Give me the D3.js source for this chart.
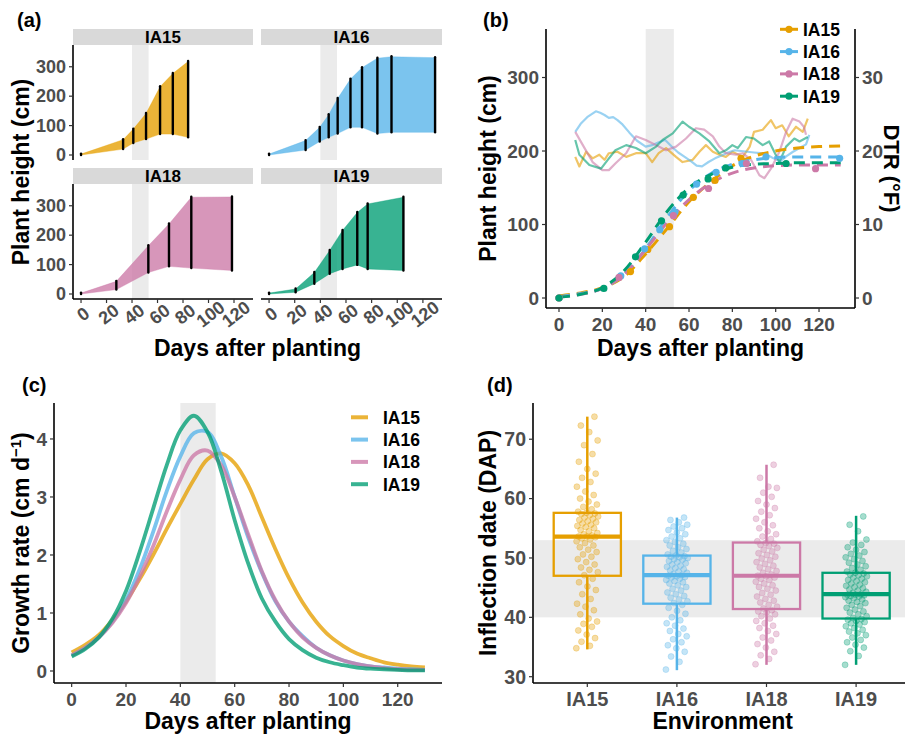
<!DOCTYPE html>
<html><head><meta charset="utf-8">
<script src="https://cdn.jsdelivr.net/npm/d3@7"></script>
<style>
body{margin:0;background:#fff}
svg text{font-family:"Liberation Sans", Arial, Helvetica, sans-serif;font-weight:bold}
</style>
</head><body>
<svg id="chart" width="905" height="735"></svg>
<script>
// ---------------- DATA ----------------
const envs = ["IA15","IA16","IA18","IA19"];
const envColors = ["#E69F00","#56B4E9","#CC79A7","#009E73"];
const flowerWindow = [40, 53];

// (a) measurement days and min/max plant height per day
const daysIA15 = [0,33,41,51,62,72,84];
const minIA15  = [0,20,41,54,71,71,60];
const maxIA15  = [3,52,88,141,232,277,318];
const daysIA16 = [0,28.5,39.5,46.5,53.5,63.5,72.5,84.5,95.5,129.5];
const minIA16  = [0,17,46,60,73,94,94,73,77,77];
const maxIA16  = [3,49,94,137,192,258,297,329,334,331];
const daysIA18 = [0,27.7,52.8,69,86.5,118.4];
const minIA18  = [0,15,73,94,88,80];
const maxIA18  = [3,43,164,238,329,330];
const daysIA19 = [0,20.7,35.3,47.3,57.3,68.8,76.9,104.8];
const minIA19  = [0,6,35,69,85,99,85,80];
const maxIA19  = [3,17,73,148,216,277,306,329];
const heightTicks = [0,100,200,300];
const dayTicks = [0,20,40,60,80,100,120];

// (b) mean plant height per measurement day
const meanIA15 = [0,36,66,97,137,160,190];
const meanIA16 = [0,30,67,93,117,155,171,183,192,190];
const meanIA18 = [0,28,112,149,183,176];
const meanIA19 = [0,13,56,105,140,162,177,183];
// (b) fitted growth curves
const fitDays  = [0,10,20,30,40,50,60,70,80,90,100,110,120,130];
const fitIA15  = [3,7,14,29,60,95,131,158,180,193,200,204,206,207];
const fitIA16  = [2,6,13,32,67,110,146,169,182,188,191,192,192,192];
const fitIA18  = [1,5,13,32,66,103,134,156,170,177,180,181,181,181];
const fitIA19  = [1,5,14,37,76,118,150,168,178,182,183,184,184,184];
// (b) diurnal temperature range (°F)
const dtrDaysIA15 = [7.5,9.4,12.5,15.5,18.6,21,23,27,31,35.5,40,43,46,49.4,54,57,61.7,64.8,67.8,71,74,77,80,84.8,88,90,94,97.8,100,103,106,109.4,112.5,114.8];
const dtrIA15     = [19.2,17.9,19.9,19.0,19.5,18.8,19.7,19.9,19.2,19.7,19.7,18.5,19.7,20.4,19.2,18.5,18.8,19.9,20.8,19.9,19.5,19.2,19.9,19.2,20.6,22.6,22.9,24.2,23.1,23.5,22.0,23.3,22.6,24.4];
const dtrDaysIA16 = [7.5,10,13,17,19,21,23,25,27,29,32.5,36,40,43,46,49,52,55,58,61,63.5,66,69,72,75,78,81,84,87,90,93,96,99,102,105,108,111,114,115.5];
const dtrIA16     = [22.6,23.7,24.6,25.4,25.2,24.9,24.5,24.6,24.2,23.7,22.5,21.4,20.6,20.8,21.2,21.5,20.6,19.8,19.2,18.6,18.0,17.9,18.5,19.0,19.4,19.8,20.1,20.0,19.9,19.8,19.7,19.5,19.0,18.6,19.3,19.9,20.4,20.9,22.2];
const dtrDaysIA18 = [7.5,11,15.5,20,23,26,31,35.5,40,44.8,49.4,54,58.6,63.2,67,71,74,77,81.7,84.8,88.6,92.5,94.8,97.8,101.7,104.8,107.8,111,113,114];
const dtrIA18     = [22.6,20.8,18.5,17.4,17.4,18.3,19.7,22.0,21.5,20.8,20.1,20.6,21.7,23.1,22.9,22.0,20.6,19.7,19.5,19.7,18.8,16.7,16.3,17.6,19.9,22.6,24.4,24.0,23.3,22.2];
const dtrDaysIA19 = [7.5,9.4,14,19.4,22.5,26,31,35.5,40,44.8,47.8,52.5,57,60,64.8,69.4,74,77,80,82.5,86.3,90,94,97,100,101.7,104.8,108.6,111,114.8];
const dtrIA19     = [21.5,19.5,18.1,17.6,18.8,20.1,20.8,20.4,19.7,20.6,21.5,22.4,24.0,23.3,22.4,21.3,19.7,20.1,20.8,20.4,21.9,21.7,20.8,21.3,19.5,18.5,20.6,21.7,21.3,21.9];
const dtrTicks = [0,10,20,30];

// (c) growth rate (cm/day)
const rateDays = [0,5,10,15,20,25,30,35,40,45,50,55,60,65,70,75,80,85,90,95,100,105,110,115,120,125,130];
const rateIA15 = [0.32,0.45,0.62,0.88,1.2,1.58,2.0,2.45,2.88,3.3,3.65,3.75,3.58,3.2,2.65,2.1,1.6,1.18,0.85,0.6,0.43,0.3,0.22,0.15,0.11,0.08,0.06];
const rateIA16 = [0.27,0.4,0.58,0.85,1.22,1.75,2.4,3.1,3.7,4.1,4.12,3.7,3.0,2.3,1.7,1.2,0.85,0.6,0.4,0.27,0.18,0.12,0.08,0.06,0.04,0.03,0.02];
const rateIA18 = [0.27,0.4,0.58,0.83,1.17,1.62,2.15,2.75,3.3,3.72,3.8,3.55,3.0,2.35,1.72,1.22,0.85,0.58,0.4,0.27,0.18,0.12,0.08,0.05,0.03,0.02,0.02];
const rateIA19 = [0.25,0.38,0.58,0.9,1.38,2.05,2.8,3.55,4.15,4.4,4.12,3.45,2.6,1.85,1.25,0.85,0.55,0.36,0.23,0.15,0.1,0.06,0.04,0.03,0.02,0.01,0.01];
const rateTicks = [0,1,2,3,4];

// (d) inflection date box statistics and points
const boxLow = [34.6,31.1,32.0,32.0];
const boxQ1  = [47.0,42.3,41.4,39.8];
const boxMed = [53.6,47.1,47.0,43.9];
const boxQ3  = [57.6,50.4,52.6,47.5];
const boxHigh= [73.8,56.8,65.7,57.1];
const dapTicks = [30,40,50,60,70];
const inflIA15 = [34.8,35.2,35.9,36.5,37.1,37.8,38.4,38.9,39.3,39.8,40.5,41.2,41.8,42.3,43.1,43.9,44.6,45.2,45.9,46.5,
 47.1,47.6,48.0,48.4,48.9,49.3,49.8,50.2,50.6,51.0,51.4,51.8,52.1,52.5,52.8,53.1,53.3,53.5,53.6,53.6,
 53.8,54.0,54.2,54.5,54.7,55.0,55.2,55.4,55.6,55.8,56.0,56.2,56.4,56.6,56.8,57.0,57.2,57.4,57.5,57.6,
 57.8,58.2,58.6,59.0,59.5,60.0,60.6,61.2,62.0,62.8,63.5,64.2,65.0,66.2,67.5,69.0,69.8,71.2,72.3,73.8];
const inflIA16 = [31.2,32.5,33.4,34.2,34.8,35.3,35.8,36.3,36.8,37.2,37.7,38.1,38.6,39.0,39.5,40.0,40.6,41.1,41.6,42.1,
 42.4,42.7,43.0,43.3,43.6,43.9,44.2,44.5,44.8,45.1,45.4,45.7,45.9,46.1,46.3,46.5,46.7,46.8,46.9,47.0,
 47.1,47.3,47.5,47.7,47.9,48.1,48.3,48.5,48.7,48.9,49.1,49.3,49.5,49.7,49.8,50.0,50.1,50.2,50.3,50.4,
 50.6,50.9,51.2,51.5,51.8,52.1,52.4,52.7,53.0,53.3,53.6,54.0,54.3,54.7,55.0,55.3,55.6,56.0,56.4,56.8];
const inflIA18 = [32.1,33.0,33.6,34.2,34.9,35.5,36.1,36.6,37.2,37.7,38.2,38.6,39.0,39.4,39.8,40.2,40.5,40.8,41.0,41.2,
 41.5,41.8,42.1,42.5,42.8,43.1,43.5,43.8,44.1,44.5,44.8,45.1,45.4,45.7,46.0,46.3,46.5,46.7,46.9,47.0,
 47.2,47.5,47.8,48.1,48.4,48.7,49.0,49.3,49.6,49.9,50.2,50.5,50.8,51.1,51.4,51.7,52.0,52.2,52.4,52.5,
 52.8,53.2,53.6,54.0,54.5,55.0,55.5,56.0,56.6,57.2,57.8,58.4,59.0,59.6,60.3,61.0,61.8,62.0,63.5,65.7];
const inflIA19 = [32.0,33.5,34.3,34.9,35.4,35.8,36.2,36.6,37.0,37.3,37.6,37.9,38.2,38.5,38.8,39.0,39.2,39.4,39.6,39.7,
 39.9,40.2,40.5,40.8,41.0,41.3,41.6,41.9,42.1,42.4,42.6,42.8,43.0,43.2,43.4,43.5,43.6,43.7,43.8,43.8,
 43.9,44.1,44.3,44.5,44.7,44.9,45.1,45.3,45.5,45.7,45.9,46.1,46.3,46.5,46.7,46.9,47.1,47.2,47.4,47.5,
 47.7,48.0,48.3,48.6,48.9,49.2,49.5,49.8,50.1,50.4,50.7,51.0,51.4,51.8,52.2,52.6,53.1,54.5,55.6,57.0];

// ---------------- DRAW ----------------
const svg = d3.select("#chart");
const TICK_COL = "#4D4D4D";
const BAND = "#EBEBEB";

function text(x, y, s, size, opts = {}) {
  const t = svg.append("text").attr("x", x).attr("y", y).text(s)
    .attr("font-size", size).attr("fill", opts.fill || "#000")
    .attr("text-anchor", opts.anchor || "start");
  if (opts.dy) t.attr("dy", opts.dy);
  if (opts.rotate !== undefined) t.attr("transform", `rotate(${opts.rotate},${x},${y})`);
  return t;
}
function line(x1, y1, x2, y2, col = "#000", w = 1.5) {
  svg.append("line").attr("x1", x1).attr("y1", y1).attr("x2", x2).attr("y2", y2)
    .attr("stroke", col).attr("stroke-width", w);
}
function yAxisLeft(scale, ticks, xAxis, size, fmt = d => d) {
  ticks.forEach(t => {
    const y = scale(t);
    line(xAxis - 4, y, xAxis, y, "#333", 1.2);
    text(xAxis - 7, y, fmt(t), size, {anchor: "end", fill: TICK_COL, dy: "0.35em"});
  });
}
function xAxisBottom(scale, ticks, yAxis, size, fmt = d => d) {
  ticks.forEach(t => {
    const x = scale(t);
    line(x, yAxis, x, yAxis + 4, "#333", 1.2);
    text(x, yAxis + 16, fmt(t), size, {anchor: "middle", fill: TICK_COL, dy: "0.35em"});
  });
}

// ===== Panel (a) =====
text(17, 27, "(a)", 20);
const facetDays = [daysIA15, daysIA16, daysIA18, daysIA19];
const facetMin = [minIA15, minIA16, minIA18, minIA19];
const facetMax = [maxIA15, maxIA16, maxIA18, maxIA19];
const facetBox = [[73,45,180],[261,45,181],[73,184,180],[261,184,181]];
facetBox.forEach(([x0, y0, w], i) => {
  const h = 115;
  const x = d3.scaleLinear().domain([-6.3, 134.9]).range([x0, x0 + w]);
  const y = d3.scaleLinear().domain([-17, 374]).range([y0 + h, y0]);
  svg.append("rect").attr("x", x0).attr("y", y0 - 16).attr("width", w).attr("height", 16).attr("fill", "#D9D9D9");
  text(x0 + w / 2, y0 - 8, envs[i], 17, {anchor: "middle", dy: "0.36em"});
  svg.append("rect").attr("x", x(flowerWindow[0])).attr("y", y0)
    .attr("width", x(flowerWindow[1]) - x(flowerWindow[0])).attr("height", h).attr("fill", BAND);
  const pts = facetDays[i].map((d, k) => ({d, lo: facetMin[i][k], hi: facetMax[i][k]}));
  svg.append("path").datum(pts)
    .attr("d", d3.area().x(p => x(p.d)).y0(p => y(p.lo)).y1(p => y(p.hi)))
    .attr("fill", envColors[i]).attr("fill-opacity", 0.78)
    .attr("stroke", envColors[i]).attr("stroke-opacity", 0.6).attr("stroke-width", 0.6);
  pts.forEach(p => {
    svg.append("line").attr("x1", x(p.d)).attr("x2", x(p.d))
      .attr("y1", y(p.lo)).attr("y2", y(p.hi) - 0.5)
      .attr("stroke", "#000").attr("stroke-width", 2.4).attr("stroke-linecap", "round");
  });
  if (i % 2 === 0) {
    line(x0, y0, x0, y0 + h, "#000", 1.6);
    yAxisLeft(y, heightTicks, x0, 18);
  }
  if (i >= 2) {
    line(x0, y0 + h, x0 + w, y0 + h, "#000", 1.6);
    dayTicks.forEach(t => {
      const xx = x(t);
      line(xx, y0 + h, xx, y0 + h + 4, "#333", 1.2);
      text(xx + 2, y0 + h + 15, t, 18, {anchor: "middle", fill: TICK_COL, dy: "0.35em", rotate: -38});
    });
  }
});
text(28.5, 172, "Plant height (cm)", 23, {anchor: "middle", rotate: -90});
text(257.5, 356, "Days after planting", 23, {anchor: "middle"});

// ===== Panel (b) =====
text(483, 27, "(b)", 20);
{
  const x = d3.scaleLinear().domain([-6, 136.6]).range([546, 855]);
  const y = d3.scaleLinear().domain([-13.6, 366]).range([308, 29]);
  const yR = d3.scaleLinear().domain([-1.36, 36.6]).range([308, 29]);
  svg.append("rect").attr("x", x(flowerWindow[0])).attr("y", 29)
    .attr("width", x(flowerWindow[1]) - x(flowerWindow[0])).attr("height", 279).attr("fill", BAND);
  const dtrD = [dtrDaysIA15, dtrDaysIA16, dtrDaysIA18, dtrDaysIA19];
  const dtrV = [dtrIA15, dtrIA16, dtrIA18, dtrIA19];
  const fits = [fitIA15, fitIA16, fitIA18, fitIA19];
  const means = [meanIA15, meanIA16, meanIA18, meanIA19];
  envs.forEach((e, i) => {
    const pts = dtrD[i].map((d, k) => [x(d), yR(dtrV[i][k])]);
    svg.append("path").attr("d", d3.line()(pts)).attr("fill", "none")
      .attr("stroke", envColors[i]).attr("stroke-opacity", 0.6).attr("stroke-width", 2.2)
      .attr("stroke-linejoin", "round");
  });
  envs.forEach((e, i) => {
    const pts = fitDays.map((d, k) => [x(d), y(fits[i][k])]);
    svg.append("path").attr("d", d3.line().curve(d3.curveMonotoneX)(pts)).attr("fill", "none")
      .attr("stroke", envColors[i]).attr("stroke-width", 3).attr("stroke-dasharray", "11,7");
  });
  envs.forEach((e, i) => {
    facetDays[i].forEach((d, k) => {
      svg.append("circle").attr("cx", x(d)).attr("cy", y(means[i][k])).attr("r", 3.6)
        .attr("fill", envColors[i]);
    });
  });
  line(546, 29, 546, 308, "#000", 1.6);
  line(855, 29, 855, 308, "#000", 1.6);
  line(546, 308, 855, 308, "#000", 1.6);
  yAxisLeft(y, heightTicks, 546, 19);
  dtrTicks.forEach(t => {
    const yy = yR(t);
    line(855, yy, 859, yy, "#333", 1.2);
    text(862, yy, t, 19, {fill: TICK_COL, dy: "0.35em"});
  });
  xAxisBottom(x, dayTicks, 308, 19);
  envs.forEach((e, i) => {
    const ly = 29.3 + i * 22.3;
    line(780, ly, 798, ly, envColors[i], 3);
    svg.append("circle").attr("cx", 789).attr("cy", ly).attr("r", 3.6).attr("fill", envColors[i]);
    text(803, ly, e, 17.5, {dy: "0.36em"});
  });
  text(496, 168.5, "Plant height (cm)", 23, {anchor: "middle", rotate: -90});
  text(884, 168.5, "DTR (°F)", 22, {anchor: "middle", rotate: 90});
  text(700.5, 356, "Days after planting", 23, {anchor: "middle"});
}

// ===== Panel (c) =====
text(22, 392, "(c)", 20);
{
  const x = d3.scaleLinear().domain([-6.5, 136.3]).range([54, 442]);
  const y = d3.scaleLinear().domain([-0.207, 4.62]).range([683, 403]);
  svg.append("rect").attr("x", x(flowerWindow[0])).attr("y", 403)
    .attr("width", x(flowerWindow[1]) - x(flowerWindow[0])).attr("height", 280).attr("fill", BAND);
  const rates = [rateIA15, rateIA16, rateIA18, rateIA19];
  envs.forEach((e, i) => {
    const pts = rateDays.map((d, k) => [x(d), y(rates[i][k])]);
    svg.append("path").attr("d", d3.line().curve(d3.curveCatmullRom)(pts)).attr("fill", "none")
      .attr("stroke", envColors[i]).attr("stroke-opacity", 0.78).attr("stroke-width", 3.8);
  });
  line(54, 403, 54, 683, "#000", 1.6);
  line(54, 683, 442, 683, "#000", 1.6);
  yAxisLeft(y, rateTicks, 54, 19);
  xAxisBottom(x, dayTicks, 683, 19);
  envs.forEach((e, i) => {
    const ly = 417.3 + i * 22.3;
    svg.append("line").attr("x1", 351).attr("x2", 368).attr("y1", ly).attr("y2", ly)
      .attr("stroke", envColors[i]).attr("stroke-opacity", 0.78).attr("stroke-width", 4);
    text(383, ly, e, 17.5, {dy: "0.36em"});
  });
  const t = text(28.5, 543, "Growth rate (cm d", 23, {anchor: "middle", rotate: -90});
  t.append("tspan").attr("dy", -8).attr("font-size", 15).text("−1");
  t.append("tspan").attr("dy", 8).text(")");
  text(248, 729, "Days after planting", 23, {anchor: "middle"});
}

// ===== Panel (d) =====
text(487, 392, "(d)", 20);
{
  const x = d3.scalePoint().domain(envs).range([587.3, 856.1]);
  const step = 89.6, bw = step * 0.75;
  const y = d3.scaleLinear().domain([28.94, 76.1]).range([683, 403]);
  svg.append("rect").attr("x", 533).attr("y", y(flowerWindow[1]))
    .attr("width", 905 - 533).attr("height", y(flowerWindow[0]) - y(flowerWindow[1])).attr("fill", BAND);
  const infl = [inflIA15, inflIA16, inflIA18, inflIA19];
  envs.forEach((e, i) => {
    const cx = x(e), col = envColors[i];
    line(cx, y(boxLow[i]), cx, y(boxQ1[i]), col, 2.5);
    line(cx, y(boxQ3[i]), cx, y(boxHigh[i]), col, 2.5);
    svg.append("rect").attr("x", cx - bw / 2).attr("y", y(boxQ3[i]))
      .attr("width", bw).attr("height", y(boxQ1[i]) - y(boxQ3[i]))
      .attr("fill", "none").attr("stroke", col).attr("stroke-width", 2.3);
    line(cx - bw / 2, y(boxMed[i]), cx + bw / 2, y(boxMed[i]), col, 4.2);
    infl[i].forEach((v, k) => {
      const jit = (((k * 0.6180339) % 1) - 0.5) * 22;
      svg.append("circle").attr("cx", cx + jit).attr("cy", y(v)).attr("r", 3)
        .attr("fill", col).attr("fill-opacity", 0.35)
        .attr("stroke", col).attr("stroke-opacity", 0.35).attr("stroke-width", 0.8);
    });
  });
  line(533, 403, 533, 683, "#000", 1.6);
  line(533, 683, 905, 683, "#000", 1.6);
  yAxisLeft(y, dapTicks, 533, 19.5);
  envs.forEach(e => {
    line(x(e), 683, x(e), 687, "#333", 1.2);
    text(x(e), 699, e, 20, {anchor: "middle", fill: TICK_COL, dy: "0.35em"});
  });
  text(496, 543, "Inflection date (DAP)", 23, {anchor: "middle", rotate: -90});
  text(722.7, 729, "Environment", 23, {anchor: "middle"});
}
</script>
</body></html>
